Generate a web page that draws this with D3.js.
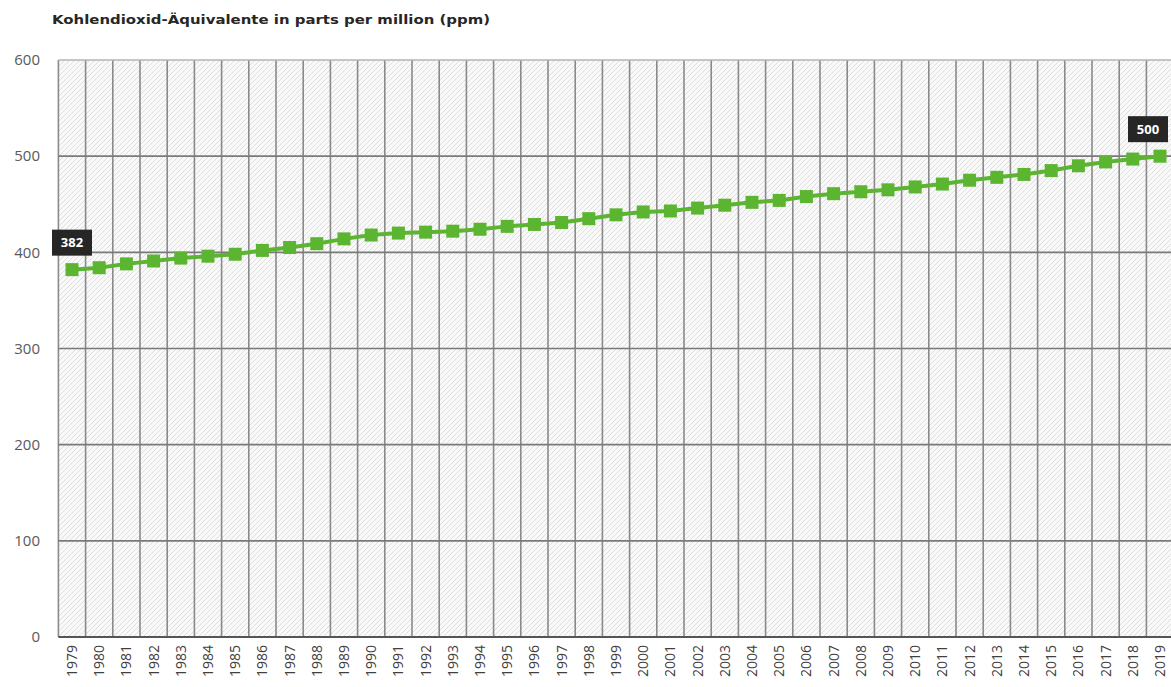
<!DOCTYPE html>
<html>
<head>
<meta charset="utf-8">
<script src="https://cdn.jsdelivr.net/npm/d3@7"></script>
<style>
  html, body { margin: 0; padding: 0; background: #ffffff; }
  svg { display: block; }
</style>
</head>
<body>
<svg id="chart" width="1171" height="687"></svg>
<script>
// CO2 equivalents per year, in ppm
const years = [1979, 1980, 1981, 1982, 1983, 1984, 1985, 1986, 1987, 1988,
  1989, 1990, 1991, 1992, 1993, 1994, 1995, 1996, 1997, 1998,
  1999, 2000, 2001, 2002, 2003, 2004, 2005, 2006, 2007, 2008,
  2009, 2010, 2011, 2012, 2013, 2014, 2015, 2016, 2017, 2018, 2019];
const ppm = [382, 384, 388, 391, 394, 396, 398, 402, 405, 409,
  414, 418, 420, 421, 422, 424, 427, 429, 431, 435,
  439, 442, 443, 446, 449, 452, 454, 458, 461, 463,
  465, 468, 471, 475, 478, 481, 485, 490, 494, 497, 500];
const yTicks = [0, 100, 200, 300, 400, 500, 600];
const labelledYears = [1979, 2019];
const title = "Kohlendioxid-Äquivalente in parts per million (ppm)";

const svg = d3.select("#chart");
const plotLeft = 58.4, plotRight = 1173.6, plotTop = 60, plotBottom = 637;

const x = d3.scaleBand().domain(years).range([plotLeft, plotRight]).padding(0);
const y = d3.scaleLinear().domain([0, 600]).range([plotBottom, plotTop]);
const cx = d => x(d) + x.bandwidth() / 2;

// diagonal hatch fill for the plot area
const defs = svg.append("defs");
const pat = defs.append("pattern")
  .attr("id", "hatch").attr("patternUnits", "userSpaceOnUse")
  .attr("width", 5).attr("height", 5);
pat.append("rect").attr("width", 5).attr("height", 5).attr("fill", "#f9f9f9");
pat.append("path").attr("d", "M-1,1 l2,-2 M0,5 l5,-5 M4,6 l2,-2")
  .attr("stroke", "#dedede").attr("stroke-width", 1);

svg.append("rect")
  .attr("x", plotLeft).attr("y", plotTop)
  .attr("width", plotRight - plotLeft).attr("height", plotBottom - plotTop)
  .attr("fill", "url(#hatch)");

// title
svg.append("text")
  .attr("x", 52).attr("y", 24)
  .attr("font-family", "'DejaVu Sans', sans-serif")
  .attr("font-weight", 700).attr("font-size", 13)
  .attr("fill", "#262626")
  .attr("textLength", 438).attr("lengthAdjust", "spacingAndGlyphs")
  .text(title);

// vertical grid at category boundaries
const bounds = years.map(d => x(d)).concat([plotRight]);
svg.append("g").selectAll("line").data(bounds).join("line")
  .attr("x1", d => d).attr("x2", d => d)
  .attr("y1", plotTop).attr("y2", plotBottom)
  .attr("stroke", "#8a8a8a").attr("stroke-width", 1.6);

// horizontal grid
svg.append("g").selectAll("line").data(yTicks.filter(t => t > 0)).join("line")
  .attr("x1", plotLeft).attr("x2", plotRight)
  .attr("y1", d => y(d)).attr("y2", d => y(d))
  .attr("stroke", d => d === 600 ? "#b5b5b5" : "#7a7a7a")
  .attr("stroke-width", 1.6);

// baseline
svg.append("line")
  .attr("x1", plotLeft).attr("x2", plotRight)
  .attr("y1", y(0)).attr("y2", y(0))
  .attr("stroke", "#555").attr("stroke-width", 2);

// y axis labels
const yAxis = d3.axisLeft(y).tickValues(yTicks).tickSize(0).tickPadding(0);
const gy = svg.append("g").attr("transform", "translate(40,0)").call(yAxis);
gy.select(".domain").remove();
gy.selectAll("text")
  .attr("font-family", "'Open Sans', sans-serif")
  .attr("font-size", 15).attr("fill", "#595959");

// x axis labels, rotated
const xAxis = d3.axisBottom(x).tickSize(0).tickPadding(0);
const gx = svg.append("g").attr("transform", `translate(0,${plotBottom})`).call(xAxis);
gx.select(".domain").remove();
gx.selectAll("text")
  .attr("font-family", "'Open Sans', sans-serif")
  .attr("font-size", 14).attr("fill", "#404040")
  .attr("transform", "rotate(-90)")
  .attr("text-anchor", "end")
  .attr("x", -8).attr("y", 0).attr("dy", "0.35em");

// series line and square markers
const line = d3.line().x((d, i) => cx(years[i])).y(d => y(d));
svg.append("path").datum(ppm)
  .attr("d", line).attr("fill", "none")
  .attr("stroke", "#5cb531").attr("stroke-width", 4);

const ms = 13;
svg.append("g").selectAll("rect").data(ppm).join("rect")
  .attr("x", (d, i) => cx(years[i]) - ms / 2)
  .attr("y", d => y(d) - ms / 2)
  .attr("width", ms).attr("height", ms)
  .attr("fill", "#5cb531");

// value callouts for first and last year
const callouts = labelledYears.map(yr => ({ yr, v: ppm[years.indexOf(yr)] }));
const cg = svg.append("g").selectAll("g").data(callouts).join("g")
  .attr("transform", d => {
    const px = Math.min(cx(d.yr), 1148);
    return `translate(${px},${y(d.v) - 27})`;
  });
cg.append("rect")
  .attr("x", -20).attr("y", -13).attr("width", 40).attr("height", 26)
  .attr("fill", "#262626");
cg.append("text")
  .attr("text-anchor", "middle").attr("dy", "0.35em")
  .attr("font-family", "'Open Sans', sans-serif")
  .attr("font-weight", 700).attr("font-size", 13)
  .attr("fill", "#ffffff")
  .text(d => d.v);
</script>
</body>
</html>
